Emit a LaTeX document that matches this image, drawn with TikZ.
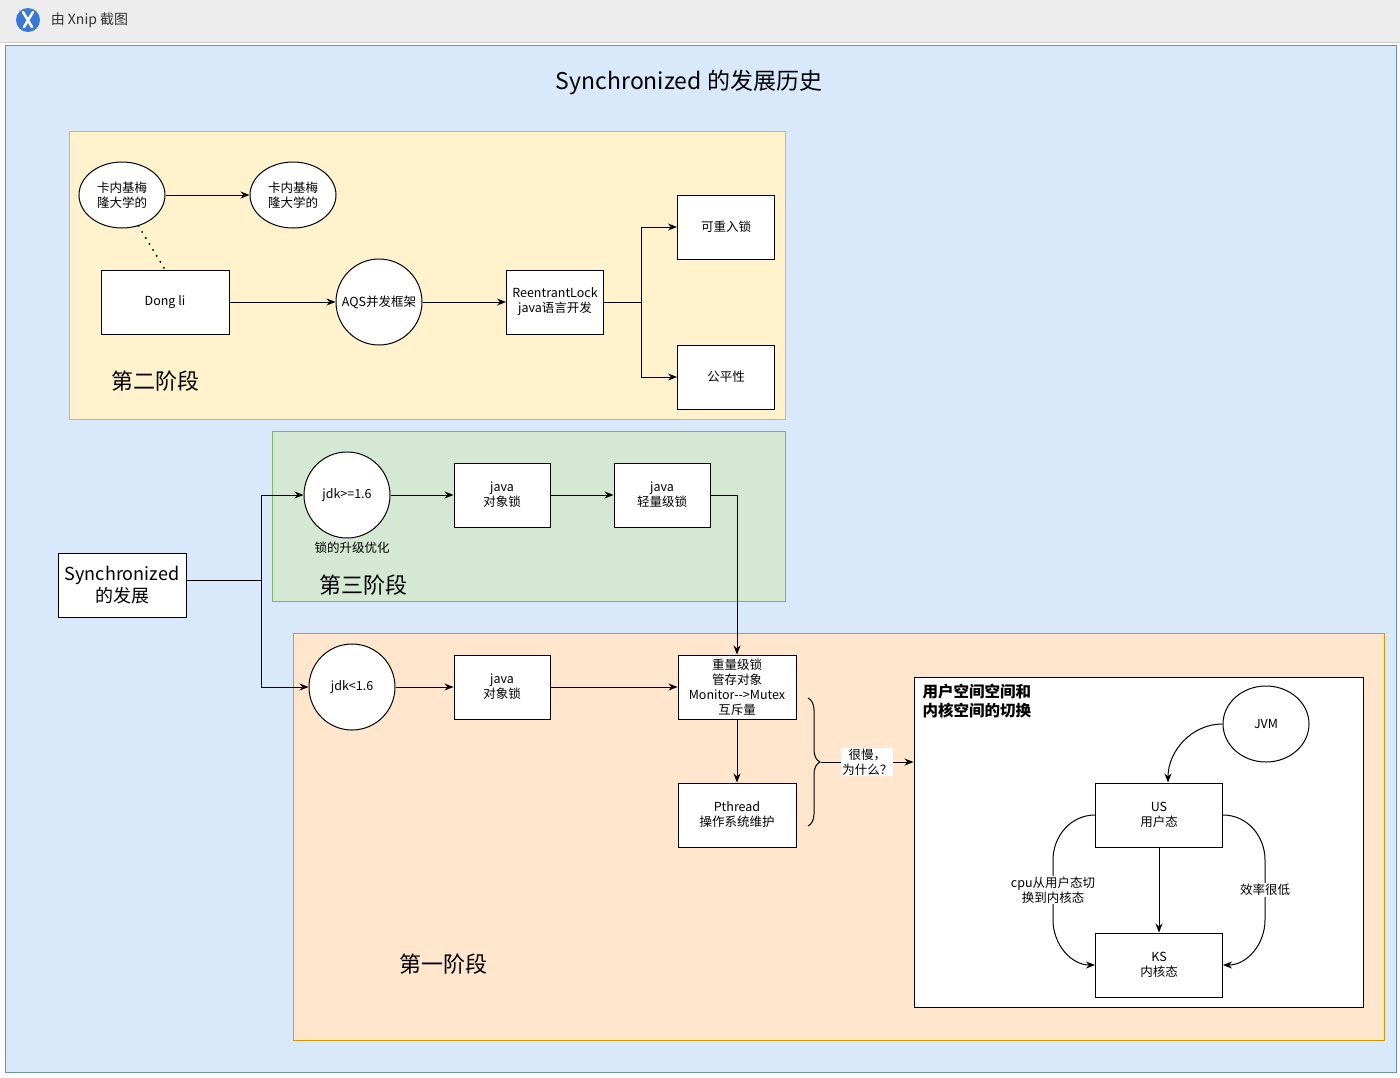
\documentclass[tikz,border=0pt]{standalone}
\usepackage{fontspec}
\setmainfont{Noto Sans CJK SC}
\usetikzlibrary{arrows.meta,shapes.geometric,decorations.pathreplacing}
\definecolor{bgBlue}{HTML}{DAE8FC}\definecolor{lnBlue}{HTML}{6C8EBF}
\definecolor{bgYellow}{HTML}{FFF2CC}\definecolor{lnYellow}{HTML}{D6B656}
\definecolor{bgGreen}{HTML}{D5E8D4}\definecolor{lnGreen}{HTML}{82B366}
\definecolor{bgOrange}{HTML}{FFE6CC}\definecolor{lnOrange}{HTML}{D79B00}
\definecolor{barGray}{HTML}{EDEDED}\definecolor{iconBlue}{HTML}{3A78D6}
\newcommand{\txt}{\fontsize{12.5}{15}\selectfont}
\begin{document}
\begin{tikzpicture}[x=1pt,y=-1pt,line width=1pt,>={Stealth[length=9pt,width=7pt]},
  box/.style={draw,fill=white,minimum width=97pt,minimum height=64pt,align=center,inner sep=1pt,font=\txt},
  ball/.style={draw,circle,fill=white,minimum size=86pt,inner sep=0pt,align=center,font=\txt},
  oval/.style={draw,ellipse,fill=white,minimum width=86pt,minimum height=66pt,inner sep=0pt,align=center,font=\txt},
  stagename/.style={font=\fontsize{22}{26}\selectfont},
  lbl/.style={fill=white,inner sep=1pt,align=center,font=\txt}]
\useasboundingbox (0,0) rectangle (1400,1077);
% title bar of the screenshot
\fill[barGray] (0,0) rectangle (1400,42);
\draw[gray!40] (0,42) -- (1400,42);
\fill[iconBlue] (28,20) circle (12);
\draw[white,line width=2.5pt,line cap=round] (23,12) -- (32,27) (33,12) -- (24,27);
\node[anchor=west,text=black!80,font=\fontsize{14}{16}\selectfont] (bar) at (47,20) {由 Xnip 截图};
% canvas
\draw[fill=bgBlue,draw=lnBlue] (5,45) rectangle (1396,1072);
\node[font=\fontsize{23}{26}\selectfont] (title) at (689,82) {Synchronized 的发展历史};

% second stage
\draw[fill=bgYellow,draw=lnYellow] (69,131) rectangle (785,419);
\node[oval] (cmuA) at (122,195) {卡内基梅\\隆大学的};
\node[oval] (cmuB) at (293,195) {卡内基梅\\隆大学的};
\node[box,minimum width=128pt] (dongli) at (165,302) {Dong li};
\node[ball] (aqs) at (379,302) {AQS并发框架};
\node[box] (rlock) at (555,302) {ReentrantLock\\java语言开发};
\node[box] (reentry) at (726,227) {可重入锁};
\node[box] (fair) at (726,377) {公平性};
\node[stagename] (stage2) at (155,381) {第二阶段};
\draw[->] (cmuA) -- (cmuB);
\draw[line width=2.2pt,line cap=round,dash pattern=on 0pt off 7pt] (cmuA.-62) -- (dongli.north);
\draw[->] (dongli) -- (aqs);
\draw[->] (aqs) -- (rlock);
\draw[->] (rlock.east) -- ++(37,0) |- (reentry);
\draw[->] (rlock.east) -- ++(37,0) |- (fair);

% third stage
\draw[fill=bgGreen,draw=lnGreen] (272,431) rectangle (785,601);
\node[ball] (jdkNew) at (347,495) {jdk>=1.6};
\node[font=\txt] (upgrade) at (352,548) {锁的升级优化};
\node[box,minimum width=96pt] (objNew) at (502,495) {java\\对象锁};
\node[box,minimum width=96pt] (light) at (662,495) {java\\轻量级锁};
\node[stagename] (stage3) at (363,585) {第三阶段};
\draw[->] (jdkNew) -- (objNew);
\draw[->] (objNew) -- (light);

% first stage
\draw[fill=bgOrange,draw=lnOrange] (293,633) rectangle (1384,1040);
\node[ball] (jdkOld) at (352,687) {jdk<1.6};
\node[box,minimum width=96pt] (objOld) at (502,687) {java\\对象锁};
\node[box,minimum width=118pt] (heavy) at (737,687) {重量级锁\\管存对象\\Monitor-{}->Mutex\\互斥量};
\node[box,minimum width=118pt] (pthread) at (737,815) {Pthread\\操作系统维护};
\node[stagename] (stage1) at (443,964) {第一阶段};
\draw[->] (jdkOld) -- (objOld);
\draw[->] (objOld) -- (heavy);
\draw[->] (light.east) -| (heavy.north);
\draw[->] (heavy) -- (pthread);

% root
\node[box,minimum width=128pt,font=\fontsize{18}{22}\selectfont] (sync) at (122,585) {Synchronized\\的发展};
\draw[->] ([yshift=5pt]sync.east) -- ++(75,0) |- (jdkNew);
\draw[->] ([yshift=5pt]sync.east) -- ++(75,0) |- (jdkOld);

% user space / kernel space
\node[draw,fill=white,minimum width=449pt,minimum height=330pt] (switchbox) at (1138.5,842) {};
\node[anchor=north west,inner sep=0pt,align=left,font=\bfseries\fontsize{15.5}{19}\selectfont] (switchname) at (922,684) {用户空间空间和\\内核空间的切换};
\node[oval,minimum height=76pt] (jvm) at (1266,724) {JVM};
\node[box,minimum width=127pt] (us) at (1159,815) {US\\用户态};
\node[box,minimum width=127pt] (ks) at (1159,965) {KS\\内核态};
\draw[->] (jvm.west) to[out=180,in=90] ([xshift=9pt]us.north);
\draw[->] (us) -- (ks);
\draw[->] (us.west) to[out=180,in=90] ++(-42,45) -- node[lbl] (cpu) {cpu从用户态切\\换到内核态} ++(0,60) to[out=-90,in=180] (ks.west);
\draw[->] (us.east) to[out=0,in=90] ++(42,45) -- node[lbl] (slow) {效率很低} ++(0,60) to[out=-90,in=0] (ks.east);

% brace and question
\coordinate (braceTop) at (808,698);
\coordinate (braceEnd) at (808,826);
\coordinate (braceTip) at (821,762);
\draw[decorate,decoration={brace,amplitude=12pt}] (braceTop) -- (braceEnd);
\draw[->] (braceTip) -- node[lbl] (why) {很慢，\\为什么？} (braceTip -| switchbox.west);
\end{tikzpicture}
\end{document}
